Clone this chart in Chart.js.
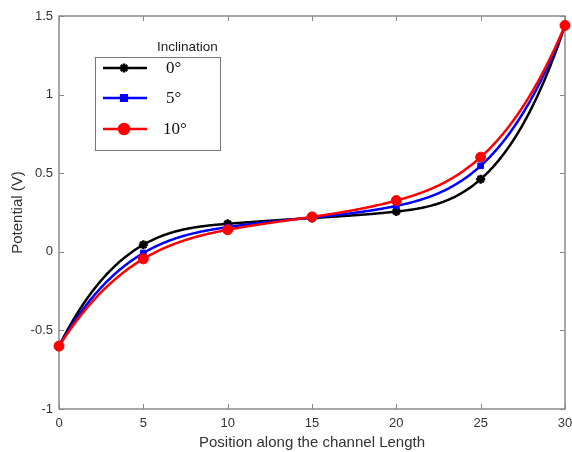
<!DOCTYPE html>
<html>
<head>
<meta charset="utf-8">
<script src="https://cdn.jsdelivr.net/npm/chart.js@4.4.1/dist/chart.umd.min.js"></script>
<style>
  html,body{margin:0;padding:0;background:#fff;}
  #wrap{width:572px;height:452px;}
</style>
</head>
<body>
<div id="wrap"><canvas id="c"></canvas></div>
<script>
// 傾斜角ごとのチャネル位置 vs 電位
const positions=[0,5,10,15,20,25,30];
const pot0 =[-0.60,0.045,0.178,0.215,0.256,0.462,1.44];
const pot5 =[-0.60,-0.008,0.157,0.218,0.292,0.547,1.44];
const pot10=[-0.60,-0.045,0.140,0.222,0.326,0.602,1.44];
const seriesLabels=['0°','5°','10°'];
const legendTitle='Inclination';

const axisCol='#8a8a8a', txtCol='#333';
const sans='"Liberation Sans", Arial, sans-serif';

const mk=(arr)=>arr.map((v,i)=>({x:positions[i],y:v}));
const ds=[
  {label:seriesLabels[0],data:mk(pot0),borderColor:'#000',backgroundColor:'#000',pointStyle:'star',pointRadius:4.5,pointBorderWidth:2.5,order:2},
  {label:seriesLabels[1],data:mk(pot5),borderColor:'#0000ff',backgroundColor:'#0000ff',pointStyle:'rect',pointRadius:4,pointBorderWidth:1,order:1},
  {label:seriesLabels[2],data:mk(pot10),borderColor:'#ff0000',backgroundColor:'#ff0000',pointStyle:'circle',pointRadius:5,pointBorderWidth:1,order:0}
].map(d=>Object.assign({borderWidth:2.5,showLine:false,clip:false,fill:false},d));

// not-a-knot 3次スプラインで線を引く（点はChart.jsが描く）
const splineLine={
  id:'splineLine',
  beforeDatasetDraw(ch,args){
    const meta=args.meta, ds=ch.data.datasets[args.index];
    const p=meta.data.map(e=>({x:e.x,y:e.y})), n=p.length;
    if(n<4)return;
    const h=[],M=new Array(n).fill(0);
    for(let i=0;i<n-1;i++)h.push(p[i+1].x-p[i].x);
    const a=[],b=[],c=[],r=[];
    for(let i=1;i<n-1;i++){
      a.push(h[i-1]);b.push(2*(h[i-1]+h[i]));c.push(h[i]);
      r.push(6*((p[i+1].y-p[i].y)/h[i]-(p[i].y-p[i-1].y)/h[i-1]));
    }
    const m=b.length, h0=h[0], h1=h[1], hl=h[n-2], hk=h[n-3];
    // 端の条件（3階微分が連続）
    b[0]=(h0+h1)*(h0/h1+2); c[0]=h1-h0*h0/h1;
    b[m-1]=(hk+hl)*(2+hl/hk); a[m-1]=hk-hl*hl/hk;
    for(let i=1;i<m;i++){const w=a[i]/b[i-1];b[i]-=w*c[i-1];r[i]-=w*r[i-1];}
    const sol=new Array(m);
    for(let i=m-1;i>=0;i--)sol[i]=(r[i]-(i<m-1?c[i]*sol[i+1]:0))/b[i];
    sol.forEach((v,i)=>M[i+1]=v);
    M[0]=((h0+h1)*M[1]-h0*M[2])/h1;
    M[n-1]=((hk+hl)*M[n-2]-hl*M[n-3])/hk;
    const ctx=ch.ctx;
    ctx.save();
    ctx.strokeStyle=ds.borderColor;ctx.lineWidth=ds.borderWidth;ctx.lineJoin='round';
    ctx.beginPath();ctx.moveTo(p[0].x,p[0].y);
    for(let i=0;i<n-1;i++){
      const hi=h[i];
      for(let xx=p[i].x+1;xx<=p[i+1].x;xx+=1){
        const t1=p[i+1].x-xx,t0=xx-p[i].x;
        const yy=M[i]*t1*t1*t1/(6*hi)+M[i+1]*t0*t0*t0/(6*hi)
          +(p[i].y/hi-M[i]*hi/6)*t1+(p[i+1].y/hi-M[i+1]*hi/6)*t0;
        ctx.lineTo(xx,yy);
      }
    }
    ctx.lineTo(p[n-1].x,p[n-1].y);
    ctx.stroke();
    ctx.restore();
  }
};

// 枠線と内向きの目盛り（上下左右）
const boxTicks={
  id:'boxTicks',
  beforeDatasetsDraw(ch){
    const {ctx,chartArea:a,scales:{x,y}}=ch, L=5;
    ctx.save();
    ctx.strokeStyle=axisCol;ctx.lineWidth=1.5;
    ctx.strokeRect(a.left,a.top,a.right-a.left,a.bottom-a.top);
    ctx.lineWidth=1;
    ctx.beginPath();
    x.ticks.forEach(t=>{const p=Math.round(x.getPixelForValue(t.value))+0.5;
      ctx.moveTo(p,a.bottom);ctx.lineTo(p,a.bottom-L);ctx.moveTo(p,a.top);ctx.lineTo(p,a.top+L);});
    y.ticks.forEach(t=>{const p=Math.round(y.getPixelForValue(t.value))+0.5;
      ctx.moveTo(a.left,p);ctx.lineTo(a.left+L,p);ctx.moveTo(a.right,p);ctx.lineTo(a.right-L,p);});
    ctx.stroke();
    ctx.restore();
  }
};

// 凡例（プロット内の枠付き）
const boxLegend={
  id:'boxLegend',
  afterDraw(ch){
    const ctx=ch.ctx;
    const bx=95.5,by=57.5,bw=125,bh=93;
    ctx.save();
    ctx.fillStyle='#fff';ctx.fillRect(bx,by,bw,bh);
    ctx.strokeStyle='#777';ctx.lineWidth=1;ctx.strokeRect(bx,by,bw,bh);
    ctx.fillStyle='#222';ctx.font='13.5px '+sans;
    ctx.textBaseline='alphabetic';ctx.textAlign='left';
    ctx.fillText(legendTitle,157,51);
    const rows=[68,98,129];
    ch.data.datasets.forEach((d,i)=>{
      const yy=rows[i];
      ctx.strokeStyle=d.borderColor;ctx.lineWidth=2.5;
      ctx.beginPath();ctx.moveTo(103,yy);ctx.lineTo(147,yy);ctx.stroke();
      ctx.fillStyle=d.backgroundColor;
      Chart.helpers.drawPoint(ctx,{pointStyle:d.pointStyle,radius:d.pointRadius,borderWidth:d.pointBorderWidth},124,yy);
      ctx.fillStyle='#111';ctx.font='17px "Liberation Serif", "Times New Roman", serif';
      ctx.textBaseline='middle';
      ctx.fillText(d.label,i===2?163:166,yy+1);
    });
    ctx.restore();
  }
};

new Chart(document.getElementById('c'),{
  type:'line',
  data:{datasets:ds},
  options:{
    responsive:true,maintainAspectRatio:false,animation:false,
    layout:{padding:{left:9,right:0,top:16,bottom:0}},
    plugins:{legend:{display:false},tooltip:{enabled:false}},
    scales:{
      x:{type:'linear',min:0,max:30,
        ticks:{stepSize:5,color:txtCol,font:{size:13,family:sans},padding:7},
        grid:{display:false,drawTicks:false},border:{display:false},
        title:{display:true,text:'Position along the channel Length',color:'#333',
          font:{size:15,family:sans},padding:{top:0,bottom:0}},
        afterFit(s){s.height=43;s.paddingRight=6;}
      },
      y:{min:-1,max:1.5,
        ticks:{stepSize:0.5,color:txtCol,font:{size:13,family:sans},padding:6,callback:v=>String(v)},
        grid:{display:false,drawTicks:false},border:{display:false},
        title:{display:true,text:'Potential (V)',color:'#333',
          font:{size:15,family:sans},padding:{top:0,bottom:4}},
        afterFit(s){s.width=50;}
      }
    }
  },
  plugins:[boxTicks,splineLine,boxLegend]
});
</script>
</body>
</html>
